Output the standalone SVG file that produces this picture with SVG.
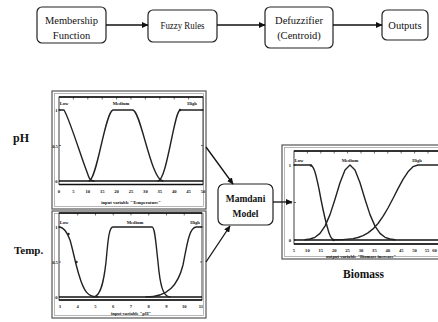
<svg xmlns="http://www.w3.org/2000/svg" width="438" height="322" viewBox="0 0 438 322">
<style>
.t{font-family:"Liberation Serif","Times New Roman",serif;fill:#111}
.box{fill:#fff;stroke:#222;stroke-width:1.2}
.frame{fill:#fff;stroke:#555;stroke-width:1.2}
.frame2{fill:none;stroke:#999;stroke-width:0.7}
.ax{fill:none;stroke:#111;stroke-width:0.8}
.axb{fill:none;stroke:#111;stroke-width:1.7}
.tk{fill:none;stroke:#111;stroke-width:0.6}
.mf{fill:none;stroke:#222;stroke-width:1.4;stroke-linejoin:round;stroke-linecap:round}
.sm{font-family:"Liberation Serif","Times New Roman",serif;font-size:4.6px;font-weight:bold;fill:#111;text-anchor:middle}
.conn{fill:none;stroke:#111;stroke-width:1.3;marker-end:url(#ah)}
.dot{fill:#222}
</style>
<defs>
<marker id="ah" markerWidth="7" markerHeight="6" refX="6" refY="3" orient="auto" markerUnits="userSpaceOnUse">
<path d="M0,0 L6.5,3 L0,6 Z" fill="#111"/>
</marker>
</defs>
<rect width="438" height="322" fill="#fff"/>

<g id="membership">
<rect class="box" x="37" y="7" width="69" height="36" rx="5"/>
<text class="t" font-size="10.5" x="71.5" y="23.5" text-anchor="middle">Membership</text>
<text class="t" font-size="10.5" x="71.5" y="38.5" text-anchor="middle">Function</text>
</g>
<g id="fuzzyrules">
<rect class="box" x="148" y="10" width="69" height="32" rx="5"/>
<text class="t" font-size="10.5" x="182.5" y="29" text-anchor="middle" textLength="44" lengthAdjust="spacingAndGlyphs">Fuzzy Rules</text>
</g>
<g id="defuzzifier">
<rect class="box" x="265" y="7" width="68" height="41" rx="5"/>
<text class="t" font-size="10.5" x="299" y="23.5" text-anchor="middle">Defuzzifier</text>
<text class="t" font-size="10.5" x="299" y="38.5" text-anchor="middle">(Centroid)</text>
</g>
<g id="outputs">
<rect class="box" x="382" y="10" width="46" height="30" rx="5"/>
<text class="t" font-size="10.5" x="405" y="29" text-anchor="middle">Outputs</text>
</g>

<g id="label-ph"><text class="t" font-size="12" font-weight="bold" x="13" y="142">pH</text></g>
<g id="label-temp"><text class="t" font-size="11" font-weight="bold" x="14" y="254">Temp.</text></g>

<g id="plot-ph">
<rect class="frame" x="52" y="91" width="154" height="118"/>
<rect class="frame2" x="54.5" y="93.5" width="149" height="113"/>
<rect class="ax" x="59" y="97" width="144" height="87.5"/>
<path class="axb" d="M59,97 H203 M59,184.5 H203 M59,181 H203"/>
<path class="tk" d="M73.4,97v2.5M87.8,97v2.5M102.2,97v2.5M116.6,97v2.5M131,97v2.5M145.4,97v2.5M159.8,97v2.5M174.2,97v2.5M188.6,97v2.5M59,110h2M59,145.5h2M203,145.5h-2M203,110h-2"/>
<path class="mf" d="M59,110 L64,110 C70,120 82,160 87,172 C89,178 90,181 94,181"/>
<path class="mf" d="M89,181 C97,180 105,112 113,110 L133,110 C141,112 151,180 163,181"/>
<path class="mf" d="M158,181 C167,180 174,112 180,110 L203,110"/>
<circle class="dot" cx="180" cy="110" r="1.2"/>
<text class="sm" x="64" y="105">Low</text>
<text class="sm" x="121" y="105">Medium</text>
<text class="sm" x="192" y="105">High</text>
<text class="sm" x="56.5" y="112">1</text>
<text class="sm" x="55" y="147.5">0.5</text>
<text class="sm" x="56.5" y="183">0</text>
<text class="sm" x="59" y="193">0</text>
<text class="sm" x="73.4" y="193">5</text>
<text class="sm" x="87.8" y="193">10</text>
<text class="sm" x="102.2" y="193">15</text>
<text class="sm" x="116.6" y="193">20</text>
<text class="sm" x="131" y="193">25</text>
<text class="sm" x="145.4" y="193">30</text>
<text class="sm" x="159.8" y="193">35</text>
<text class="sm" x="174.2" y="193">40</text>
<text class="sm" x="188.6" y="193">45</text>
<text class="sm" x="203" y="193">50</text>
<text class="sm" x="131" y="204" font-size="4.2">input variable "Temperature"</text>
</g>

<g id="plot-temp">
<rect class="frame" x="52" y="211" width="154" height="107"/>
<rect class="frame2" x="54.5" y="213.5" width="149" height="102"/>
<rect class="ax" x="59" y="213" width="143" height="87"/>
<path class="axb" d="M59,213 H202 M59,300 H202 M59,297 H202"/>
<path class="tk" d="M77.75,213v2.5M95.5,213v2.5M113.25,213v2.5M131,213v2.5M148.75,213v2.5M166.5,213v2.5M184.25,213v2.5M59,227h2M59,262h2M202,262h-2M202,227h-2"/>
<path class="mf" d="M59,227 C64,227 67,232 70,240 C73,250 75,262 79,275 C84,292 88,297 98,297"/>
<path class="mf" d="M93,297 C101,297 104,280 106,262 C108,240 109,227 113,227 L152,227 C155,227 156,245 158,262 C160,285 163,297 170,297"/>
<path class="mf" d="M146,297 C168,297 178,285 183,265 C187,245 189,228 196,227 L202,227"/>
<circle class="dot" cx="68.5" cy="234" r="1.2"/>
<circle class="dot" cx="76.5" cy="262" r="1.2"/>
<text class="sm" x="64" y="223.5">Low</text>
<text class="sm" x="135" y="223.5">Medium</text>
<text class="sm" x="195" y="223.5">High</text>
<text class="sm" x="56.5" y="229">1</text>
<text class="sm" x="55" y="264">0.5</text>
<text class="sm" x="56.5" y="299">0</text>
<text class="sm" x="60" y="308">3</text>
<text class="sm" x="77.75" y="308">4</text>
<text class="sm" x="95.5" y="308">5</text>
<text class="sm" x="113.25" y="308">6</text>
<text class="sm" x="131" y="308">7</text>
<text class="sm" x="148.75" y="308">8</text>
<text class="sm" x="166.5" y="308">9</text>
<text class="sm" x="184.25" y="308">10</text>
<text class="sm" x="201" y="308">11</text>
<text class="sm" x="131" y="315" font-size="4.2">input variable "pH"</text>
</g>

<g id="mamdani">
<rect class="box" x="218" y="184" width="55" height="41" rx="6"/>
<text class="t" font-size="9.5" font-weight="bold" x="245.5" y="201.5" text-anchor="middle">Mamdani</text>
<text class="t" font-size="9.5" font-weight="bold" x="245.5" y="216.5" text-anchor="middle">Model</text>
</g>

<g id="plot-biomass">
<rect class="frame" x="282" y="145" width="160" height="114"/>
<rect class="frame2" x="284.5" y="147.5" width="160" height="109"/>
<rect class="ax" x="294" y="151" width="150" height="93"/>
<path class="axb" d="M294,151 H440 M294,244 H440 M294,240 H440"/>
<path class="tk" d="M307.4,151v2.5M320.8,151v2.5M334.2,151v2.5M347.6,151v2.5M361,151v2.5M374.4,151v2.5M387.8,151v2.5M401.2,151v2.5M414.6,151v2.5M428,151v2.5M294,165h2M294,202.5h2M294,240h2"/>
<path class="mf" d="M294,165 L310,165 C314,165 316,175 319,189 C321,200 324,215 327,226 C329,234 331,240 334,240"/>
<path class="mf" d="M305,239.7 L310,239 L315,237.3 L320,233.4 L325,226.1 L330,214.6 L335,199.2 L340,182.8 L345,169.9 L350,165 L355,169.9 L360,182.8 L365,199.2 L370,214.6 L375,226.1 L380,233.4 L385,237.3 L390,239 L395,239.7"/>
<path class="mf" d="M333,239.8 L343,239.6 L353,238.6 L358,237.5 L363,235.7 L368,232.9 L373,228.9 L378,223.5 L383,216.4 L388,208 L393,198.5 L398,188.6 L403,179.3 L408,171.8 L413,166.7 L418,165 L440,165"/>
<circle class="dot" cx="311" cy="165.5" r="1.2"/>
<circle class="dot" cx="333.5" cy="240" r="1.2"/>
<text class="sm" x="299" y="161.5">Low</text>
<text class="sm" x="350" y="161.5">Medium</text>
<text class="sm" x="417" y="161.5">High</text>
<text class="sm" x="290" y="167">1</text>
<text class="sm" x="289" y="204">0.5</text>
<text class="sm" x="290" y="242">0</text>
<text class="sm" x="294" y="252">5</text>
<text class="sm" x="307.4" y="252">10</text>
<text class="sm" x="320.8" y="252">15</text>
<text class="sm" x="334.2" y="252">20</text>
<text class="sm" x="347.6" y="252">25</text>
<text class="sm" x="361" y="252">30</text>
<text class="sm" x="374.4" y="252">35</text>
<text class="sm" x="387.8" y="252">40</text>
<text class="sm" x="401.2" y="252">45</text>
<text class="sm" x="414.6" y="252">50</text>
<text class="sm" x="427" y="252">55</text>
<text class="sm" x="434.5" y="252">60</text>
<text class="sm" x="361" y="257.5" font-size="4.2">output variable "Biomass increase"</text>
</g>
<g id="label-biomass"><text class="t" font-size="11.5" font-weight="bold" x="363.5" y="277.5" text-anchor="middle">Biomass</text></g>

<g id="connectors">
<path class="conn" d="M106,25 H148"/>
<path class="conn" d="M217,25 H265"/>
<path class="conn" d="M333,25 H382"/>
<path class="conn" d="M206,147 L233,184"/>
<path class="conn" d="M206,262 L230,226"/>
<path class="conn" d="M273,202 H292"/>
</g>
</svg>
